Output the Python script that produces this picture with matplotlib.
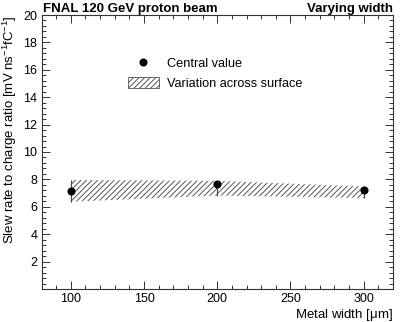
import numpy as np
import matplotlib.pyplot as plt
from matplotlib.lines import Line2D
from matplotlib.patches import Patch
from matplotlib.ticker import MultipleLocator

plt.rcParams['font.family'] = ['Liberation Sans', 'DejaVu Sans']
plt.rcParams['mathtext.fontset'] = 'custom'
plt.rcParams['mathtext.rm'] = 'Liberation Sans'
plt.rcParams['mathtext.it'] = 'Liberation Sans:italic'
plt.rcParams['hatch.linewidth'] = 0.7
plt.rcParams['hatch.color'] = '#555555'

# metal width [um] and slew rate / charge ratio
widths = [100, 200, 300]
central = [7.15, 7.66, 7.23]
low = [6.37, 6.82, 6.64]
high = [7.96, 7.90, 7.48]

fig = plt.figure(figsize=(4.15, 3.22), dpi=100)
ax = fig.add_axes([41.5 / 415, 1 - 289 / 322, (393 - 41.5) / 415, (289 - 15) / 322])

ax.fill_between(widths, low, high, facecolor='none', edgecolor='#555555',
                hatch='//////', linewidth=0, label='Variation across surface')
yerr = [np.array(central) - np.array(low), np.array(high) - np.array(central)]
ax.errorbar(widths, central, yerr=yerr, fmt='none', ecolor='#444444', elinewidth=0.8)
ax.plot(widths, central, 'o', color='black', markersize=4.8)

ax.set_xlim(80, 320)
ax.set_ylim(0, 20)
ax.xaxis.set_major_locator(MultipleLocator(50))
ax.xaxis.set_minor_locator(MultipleLocator(10))
ax.yaxis.set_major_locator(MultipleLocator(2))
ax.yaxis.set_minor_locator(MultipleLocator(0.4))
ax.set_yticks(np.arange(2, 21, 2))
ax.tick_params(which='both', direction='in', top=True, right=True, labelsize=9, color='#333333')
ax.tick_params(which='major', length=6, width=0.7, pad=3)
ax.tick_params(which='minor', length=3, width=0.7)
for s in ax.spines.values():
    s.set_linewidth(0.8)
    s.set_color('#333333')

ax.set_xlabel('Metal width [$\\mathrm{\\mu}$m]', fontsize=9.5, loc='right', labelpad=1)
ax.set_ylabel('Slew rate to charge ratio [mV ns$^{-1}$fC$^{-1}$]', fontsize=9.5, loc='top', labelpad=3)

fig.text(43 / 415, 1 - 9 / 322, 'FNAL 120 GeV proton beam', fontsize=9.5, fontweight='bold',
         ha='left', va='center')
fig.text(393 / 415, 1 - 9 / 322, 'Varying width', fontsize=9.5, fontweight='bold',
         ha='right', va='center')

handles = [Line2D([], [], marker='o', color='black', linestyle='none', markersize=4.8),
           Patch(facecolor='none', edgecolor='#555555', hatch='//////', linewidth=0.6)]
ax.legend(handles, ['Central value', 'Variation across surface'], loc='upper left',
          bbox_to_anchor=(116 / 415, 1 - 46 / 322), bbox_transform=fig.transFigure,
          frameon=False, fontsize=9.2, handlelength=2.5, handleheight=0.95,
          handletextpad=0.6, labelspacing=0.5, borderpad=0.4)

fig.savefig('out.png', dpi=100)
